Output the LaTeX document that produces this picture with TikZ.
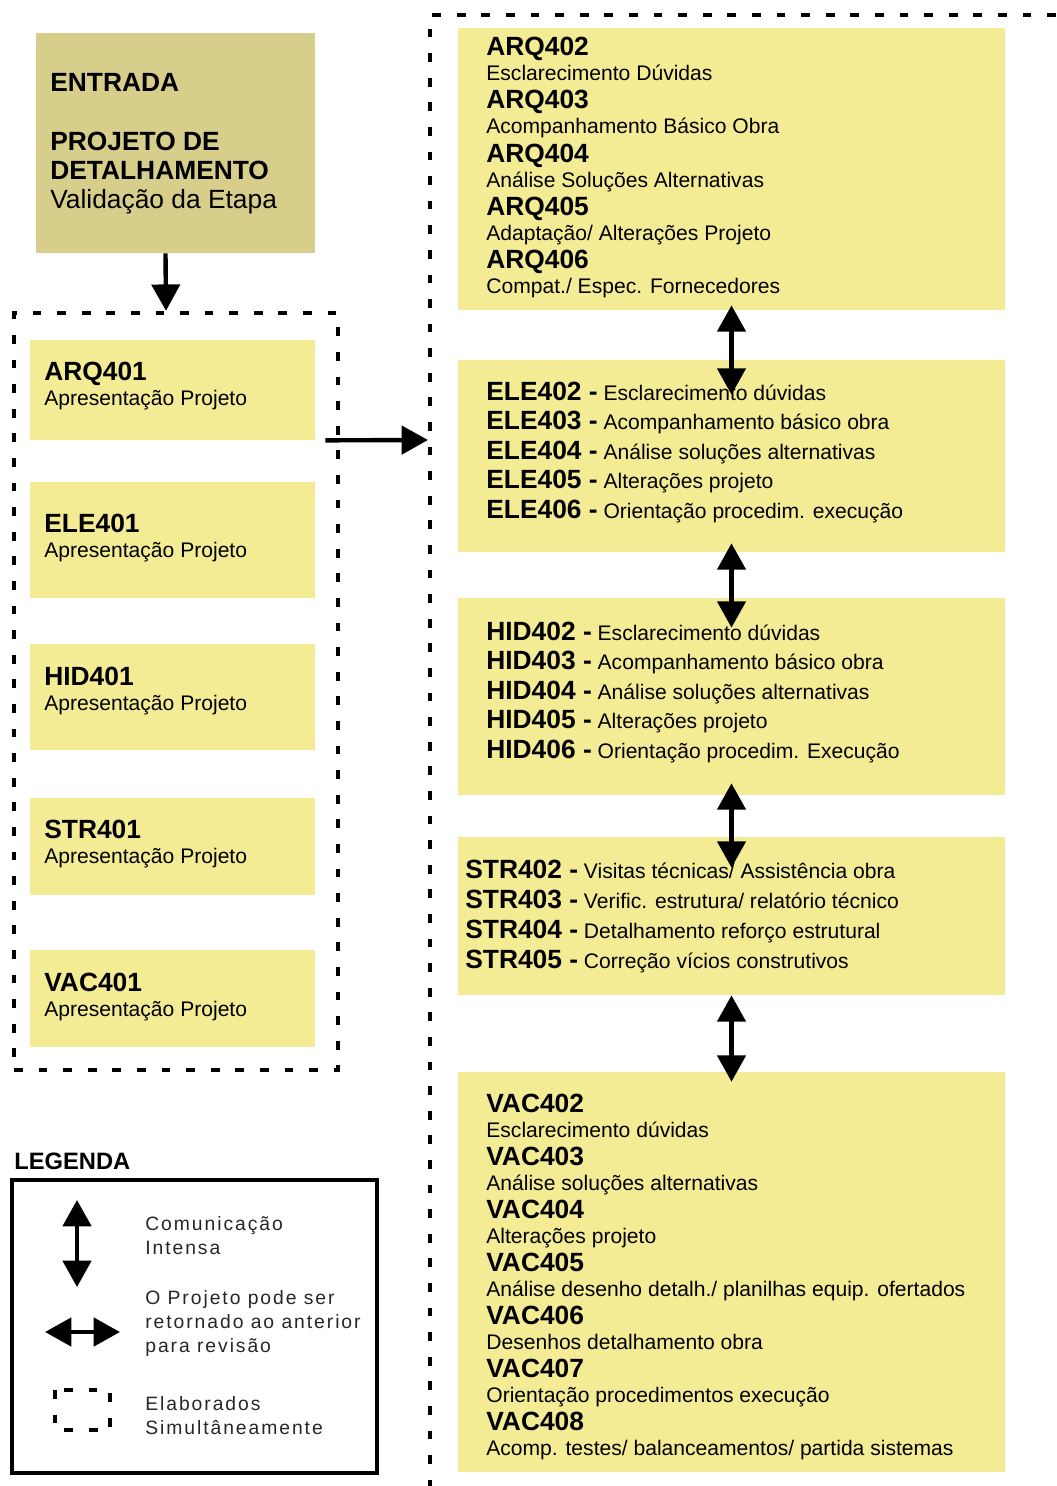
\documentclass[tikz,border=0pt]{standalone}
\usepackage{fontspec}
\setmainfont{Liberation Sans}
\newfontfamily\legfont[LetterSpace=10]{Liberation Sans}
\usetikzlibrary{arrows.meta,positioning}
\definecolor{boxyellow}{RGB}{244,236,148}
\definecolor{entradabg}{RGB}{215,206,140}
\newcommand{\cod}[1]{{\fontsize{15}{18}\selectfont\bfseries #1}}

\begin{document}
\begin{tikzpicture}[x=0.02cm,y=-0.02cm,
  >={Triangle[length=15pt,width=16pt]},
  entbox/.style={fill=entradabg,inner sep=0pt,minimum width=5.58cm,minimum height=4.4cm},
  lbox/.style={fill=boxyellow,inner sep=0pt,minimum width=5.7cm},
  rbox/.style={fill=boxyellow,inner sep=0pt,minimum width=10.94cm},
  code/.style={anchor=base west,inner sep=0pt,font=\fontsize{15}{18}\selectfont\bfseries},
  desc/.style={anchor=base west,inner sep=0pt,font=\fontsize{12}{14}\selectfont},
  grpline/.style={line width=2.6pt,dash pattern=on 5pt off 9pt},
  arr/.style={->,line width=2.5pt},
  dbl/.style={<->,line width=2.5pt},
  legtxt/.style={anchor=base west,inner sep=0pt,text=black!85,font=\fontsize{11}{13}\selectfont\legfont}]
  \useasboundingbox (0,0) rectangle (1056,1486);

  % entrada
  \node[entbox] (entrada) at (175.5,143) {};
  \node[code] (ent1) at (50,92) {ENTRADA};
  \node[code] (ent2) at (50,151) {PROJETO DE};
  \node[code] (ent3) at (50,180) {DETALHAMENTO};
  \node[code,font=\fontsize{15}{18}\selectfont] (ent4) at (50,209) {Validação da Etapa};

  % left group, elaborated together
  \node[draw,grpline,minimum width=6.48cm,minimum height=15.14cm] (grp) at (176,691.5) {};
  \foreach \nm/\cd/\yt/\yb/\yc in {arq/ARQ401/340/440/380, ele/ELE401/482/598/532,
      hid/HID401/644/750/685, str/STR401/798/895/838, vac/VAC401/950/1047/991} {
    \node[lbox,minimum height={(\yb-\yt)*0.02cm}] (l-\nm) at (172.5,{(\yt+\yb)/2}) {};
    \node[code] (l-\nm-c) at (44,\yc) {\cd};
    \node[desc] (l-\nm-d) at (44,\yc+25) {Apresentação Projeto};
  }

  % right group
  \draw[grpline] (1056,15) -- (430,15) -- (430,1486);
  \coordinate (bigw) at (428,440);
  \node[rbox,minimum height=5.64cm] (arq) at (731.5,169) {};
  \node[rbox,minimum height=3.84cm] (ele) at (731.5,456) {};
  \node[rbox,minimum height=3.94cm] (hid) at (731.5,696.5) {};
  \node[rbox,minimum height=3.16cm] (str) at (731.5,916) {};
  \node[rbox,minimum height=8cm] (vac) at (731.5,1272) {};

  \foreach \cd/\ds [count=\i from 0] in {ARQ402/Esclarecimento Dúvidas,
      ARQ403/Acompanhamento Básico Obra, ARQ404/Análise Soluções Alternativas,
      ARQ405/{Adaptação/ Alterações Projeto}, ARQ406/{Compat./ Espec. Fornecedores}} {
    \node[code] (arq-c\i) at (486,{55.5+53.3*\i}) {\cd};
    \node[desc] (arq-d\i) at (486,{80.5+53.3*\i}) {\ds};
  }
  \foreach \cd/\ds [count=\i from 0] in {ELE402/Esclarecimento dúvidas,
      ELE403/Acompanhamento básico obra, ELE404/Análise soluções alternativas,
      ELE405/Alterações projeto, ELE406/Orientação procedim. execução} {
    \node[desc] (ele-\i) at (486,{400+29.6*\i}) {\cod{\cd\ -} \ds};
  }
  \foreach \cd/\ds [count=\i from 0] in {HID402/Esclarecimento dúvidas,
      HID403/Acompanhamento básico obra, HID404/Análise soluções alternativas,
      HID405/Alterações projeto, HID406/Orientação procedim. Execução} {
    \node[desc] (hid-\i) at (486,{640+29.6*\i}) {\cod{\cd\ -} \ds};
  }
  \foreach \cd/\ds [count=\i from 0] in {STR402/{Visitas técnicas/ Assistência obra},
      STR403/{Verific. estrutura/ relatório técnico}, STR404/Detalhamento reforço estrutural,
      STR405/Correção vícios construtivos} {
    \node[desc] (str-\i) at (465,{878+30*\i}) {\cod{\cd\ -} \ds};
  }
  \foreach \cd/\ds [count=\i from 0] in {VAC402/Esclarecimento dúvidas,
      VAC403/Análise soluções alternativas, VAC404/Alterações projeto,
      VAC405/{Análise desenho detalh./ planilhas equip. ofertados},
      VAC406/Desenhos detalhamento obra, VAC407/Orientação procedimentos execução,
      VAC408/{Acomp. testes/ balanceamentos/ partida sistemas}} {
    \node[code] (vac-c\i) at (486,{1112+53.1*\i}) {\cd};
    \node[desc] (vac-d\i) at (486,{1137+53.1*\i}) {\ds};
  }

  % connectors
  \draw[arr] ([xshift=-0.2cm]entrada.south) -- ([xshift=-0.2cm]grp.north);
  \draw[arr] ([xshift=0.2cm]l-arq.south east) -- (bigw);
  \draw[dbl] ([yshift=0.1cm]arq.south) -- ([yshift=-0.7cm]ele.north);
  \draw[dbl] ([yshift=0.18cm]ele.south) -- ([yshift=-0.6cm]hid.north);
  \draw[dbl] ([yshift=0.24cm]hid.south) -- ([yshift=-0.62cm]str.north);
  \draw[dbl] (str.south) -- ([yshift=-0.2cm]vac.north);

  % legend
  \node[code,font=\fontsize{13.5}{16}\selectfont\bfseries] (legtitle) at (14,1169) {LEGENDA};
  \node[draw,line width=2.3pt,inner sep=0pt,minimum width=7.3cm,minimum height=5.86cm] (legbox) at (194.5,1326.5) {};
  \coordinate (lv1) at (77,1200);
  \coordinate (lv2) at (77,1287);
  \coordinate (lh1) at (45,1332);
  \coordinate (lh2) at (120,1332);
  \draw[dbl] (lv1) -- (lv2);
  \draw[dbl] (lh1) -- (lh2);
  \draw[grpline] (55,1390) rectangle (110,1430);
  \node[legtxt] (leg1a) at (145,1230) {Comunicação};
  \node[legtxt] (leg1b) at (145,1254) {Intensa};
  \node[legtxt] (leg2a) at (145,1304) {O Projeto pode ser};
  \node[legtxt] (leg2b) at (145,1328) {retornado ao anterior};
  \node[legtxt] (leg2c) at (145,1352) {para revisão};
  \node[legtxt] (leg3a) at (145,1410) {Elaborados};
  \node[legtxt] (leg3b) at (145,1434) {Simultâneamente};
\end{tikzpicture}
\end{document}
